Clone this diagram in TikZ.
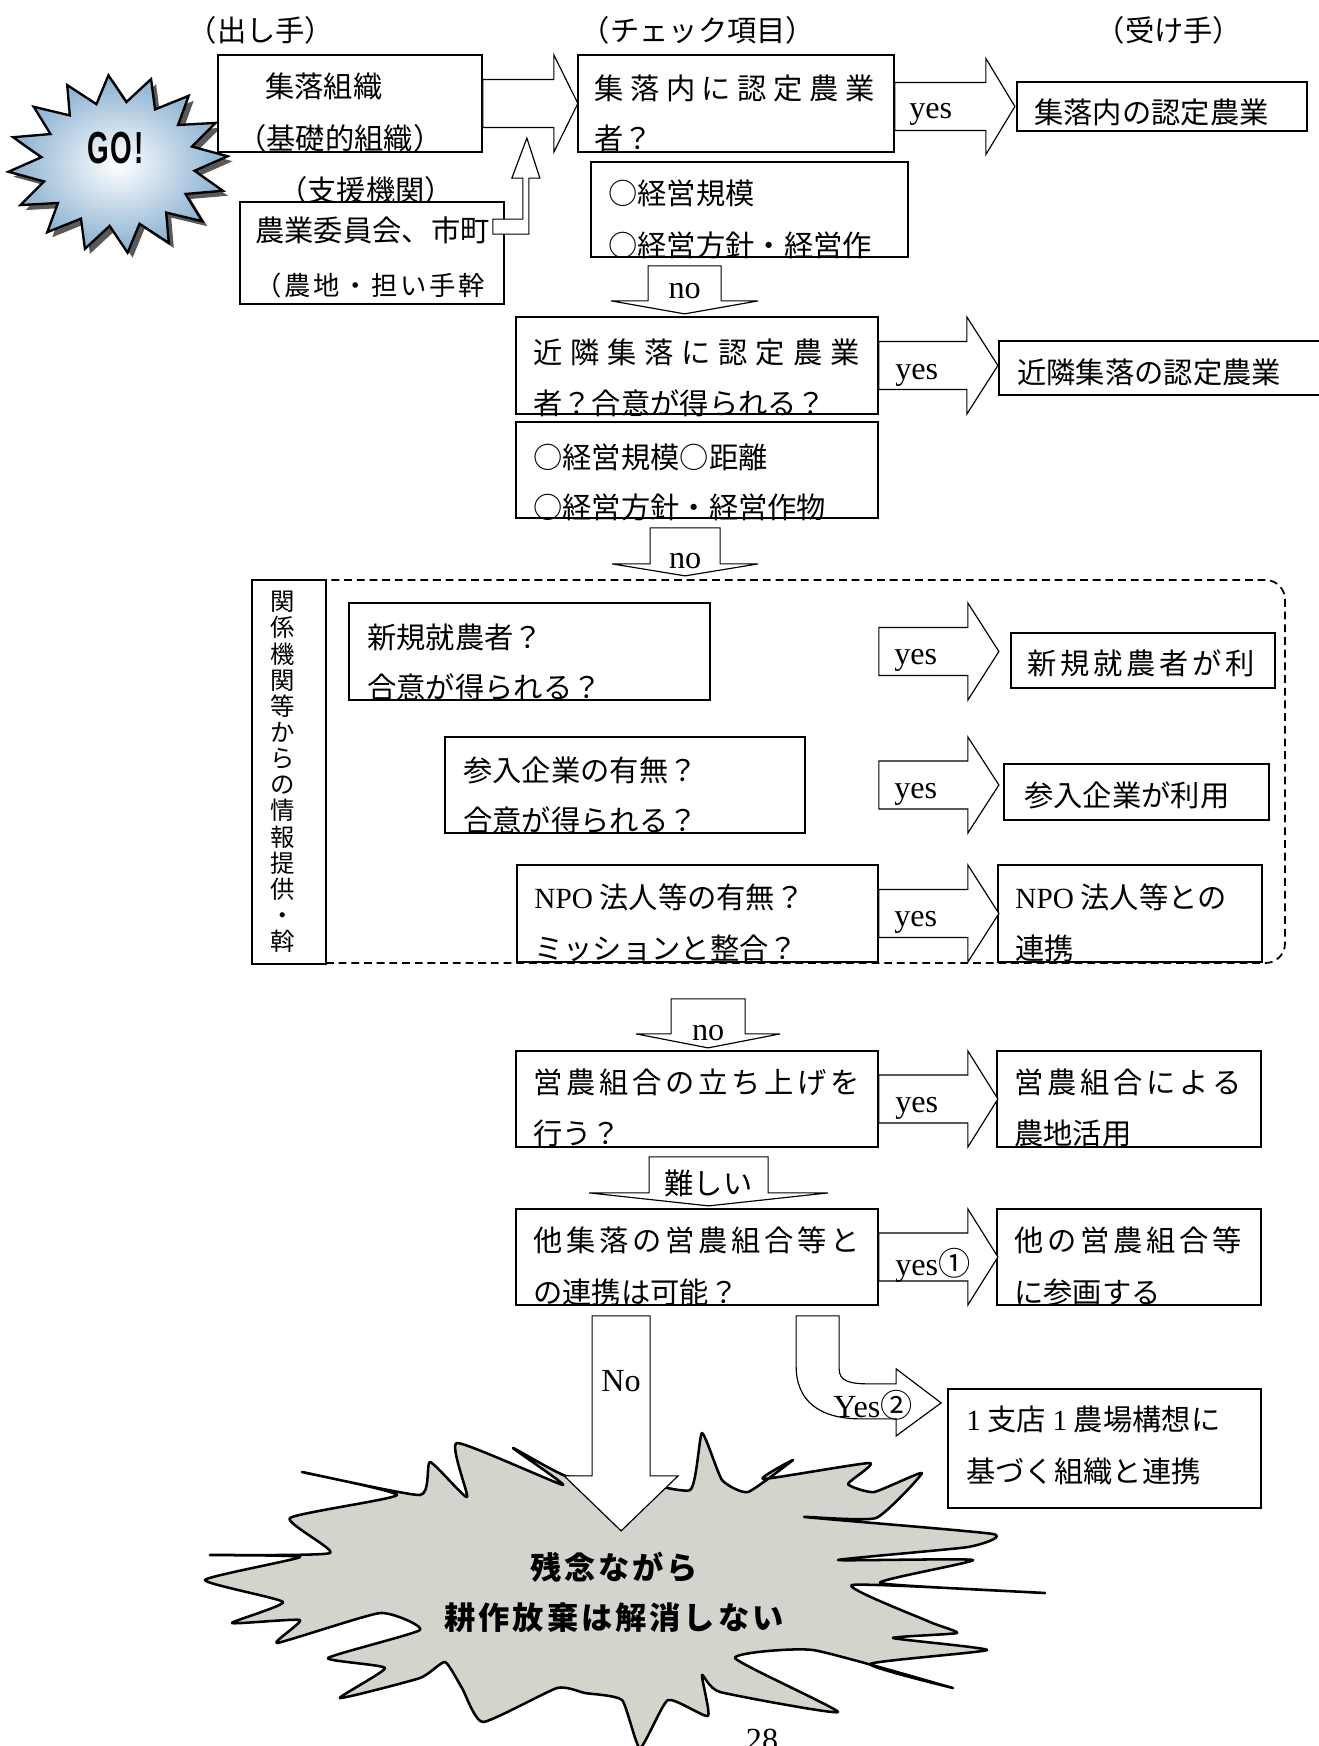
\documentclass[tikz,border=0pt]{standalone}
\usepackage{fontspec}
\usepackage{graphicx}
\newfontfamily\jp{Noto Sans CJK JP}
\newfontfamily\lat{Liberation Serif}
\newfontfamily\gofont{Liberation Sans}
\usetikzlibrary{calc,fit}

\definecolor{goblue}{RGB}{135,175,208}
\definecolor{boom}{RGB}{211,212,203}

\newdimen\pxunit \pxunit=0.018cm
% spread the characters of #2 over #1 px
\newcommand\spread[2]{\hbox to #1\pxunit{\spreadaux#2\relax}}
\def\spreadaux#1#2{#1\ifx#2\relax\else\hfil\expandafter\spreadaux\expandafter#2\fi}

% right block arrow: start, shaft length, shaft half, head half, head length
\newcommand\rblock[5]{\draw[blockarrow] ($(#1)+(0,-#3)$) -- ++(#2,0) -- ++(0,{#3-#4}) -- ++(#5,#4) -- ++(-#5,#4) -- ++(0,{#3-#4}) -- ++(-#2,0) -- cycle;}
% down block arrow: top left, shaft width, shaft length, head overhang, head length
\newcommand\dblock[5]{\draw[blockarrow] (#1) -- ++(#2,0) -- ++(0,#3) -- ++(#4,0) -- ++({-#4-#2/2},#5) -- ++({-#4-#2/2},-#5) -- ++(#4,0) -- cycle;}

\begin{document}
\begin{tikzpicture}[x=0.018cm, y=-0.018cm,
  box/.style={draw, line width=0.9pt, fill=white, inner sep=0pt},
  area/.style={draw, dash pattern=on 4pt off 2.5pt, line width=0.9pt, rounded corners=10pt, inner sep=0pt},
  txt/.style={font=\jp\fontsize{15}{18}\selectfont, inner sep=0pt, anchor=west},
  hdr/.style={font=\jp\fontsize{15}{18}\selectfont, inner sep=0pt},
  lbl/.style={font=\lat\fontsize{16.5}{18}\selectfont, inner sep=0pt},
  blockarrow/.style={draw, line width=0.6pt, fill=white}]

\useasboundingbox (0,0) rectangle (1318,1746);

% GO!
\fill[black!65, shift={(5,5)}] plot[samples at={0,...,31}, variable=\k] ({118+(1-0.3*mod(\k,2))*110*cos(\k*11.25+95)}, {164-(1-0.3*mod(\k,2))*89*sin(\k*11.25+95)}) -- cycle;
\shadedraw[line width=1.2pt, inner color=white, outer color=goblue] plot[samples at={0,...,31}, variable=\k] ({118+(1-0.3*mod(\k,2))*110*cos(\k*11.25+95)}, {164-(1-0.3*mod(\k,2))*89*sin(\k*11.25+95)}) -- cycle;
\node[font=\gofont\bfseries\fontsize{23}{26}\selectfont, inner sep=0pt] (go) at (116,148) {\scalebox{0.62}[1]{G\kern1pt O\kern2pt!}};

\node[hdr] (h1) at (261,30) {（出し手）};
\node[hdr] (h2) at (698,30) {（チェック項目）};
\node[hdr] (h3) at (1169,30) {（受け手）};
\node[hdr] (h4) at (366,190) {（支援機関）};

\node[box, fit={(218,55) (482,152)}] (kA) {};
\node[txt] (tA1) at (265,86) {集落組織};
\node[txt] (tA2) at (237,138) {（基礎的組織）};

\node[box, fit={(240,202) (504,304)}] (kC) {};
\node[txt] (tC1) at (255,230) {農業委員会、市町};
\node[txt, font=\jp\fontsize{13.5}{16}\selectfont] (tC2) at (255,285) {\spread{229}{（農地・担い手幹}};
\coordinate (lC) at ($(kC.north east)+(-12,18)$);
\draw[blockarrow] (lC) -- ++(30,0) -- ++(0,-41) -- ++(-11,0) -- ++(15,-40) -- ++(13,40) -- ++(-11,0) -- ++(0,56) -- ++(-36,0) -- cycle;

\node[box, fit={(578,55) (894,152)}] (kB) {};
\node[txt] (tB1) at (594,88) {\spread{280}{集落内に認定農業}};
\node[txt] (tB2) at (594,138) {者？};
\rblock{kA.east}{71}{24}{48.5}{24}

\node[box, fit={(1017,82) (1307,131)}] (kR1) {};
\node[txt] (tR1) at (1034,112) {集落内の認定農業};
\coordinate (aB) at ($(kB.east)+(0,3)$);
\rblock{aB}{91}{24}{48}{29}
\node[lbl, anchor=west] (y1) at ($(aB)+(14,8)$) {yes};

\node[box, fit={(591,162) (908,257)}] (kB2) {};
\node[txt] (tB3) at (608,193) {○経営規模};
\node[txt] (tB4) at (608,245) {○経営方針・経営作};
\coordinate (n1) at ($(kB2.south west)+(58,8)$);
\dblock{n1}{73}{35}{37}{13}
\node[lbl] (l1) at ($(n1)+(36.5,25)$) {no};

\node[box, fit={(516,317) (878,414)}] (kD) {};
\node[txt] (tD1) at (533,352) {\spread{326}{近隣集落に認定農業}};
\node[txt] (tD2) at (533,403) {者？合意が得られる？};
\node[box, fit={(999,341) (1330,395)}] (kR2) {};
\node[txt] (tR2) at (1017,372) {近隣集落の認定農業};
\rblock{kD.east}{88}{24}{48.5}{31}
\node[lbl, anchor=west] (y2) at ($(kD.east)+(16,10)$) {yes};

\node[box, fit={(516,422) (878,518)}] (kD2) {};
\node[txt] (tD3) at (533,457) {○経営規模○距離};
\node[txt] (tD4) at (533,507) {○経営方針・経営作物};
\coordinate (n2) at ($(kD2.south west)+(135,9)$);
\dblock{n2}{70}{36}{38}{12}
\node[lbl] (l2) at ($(n2)+(35,33)$) {no};

% information from related organisations
\node[area, fit={(300,580) (1285,963)}] (area) {};
\node[box, fit={(252,580) (326,964)}] (kInfo) {};
\node[font=\jp\fontsize{12.5}{13.4}\selectfont, align=center, inner sep=0pt] (tInfo) at (283,772) {関\\係\\機\\関\\等\\か\\ら\\の\\情\\報\\提\\供\\・\\斡};

\node[box, fit={(349,603) (710,700)}] (kE1) {};
\node[txt] (tE1) at (367,637) {新規就農者？};
\node[txt] (tE2) at (367,687) {合意が得られる？};
\node[box, fit={(445,737) (805,833)}] (kE2) {};
\node[txt] (tE3) at (463,770) {参入企業の有無？};
\node[txt] (tE4) at (463,820) {合意が得られる？};
\node[box, fit={(517,865) (878,962)}] (kE3) {};
\node[txt] (tE5) at (534,897) {{\lat NPO} 法人等の有無？};
\node[txt] (tE6) at (534,948) {ミッションと整合？};

\node[box, fit={(1011,633) (1275,688)}] (kR3) {};
\node[txt] (tR3) at (1027,663) {\spread{227}{新規就農者が利}};
\node[box, fit={(1004,764) (1269,820)}] (kR4) {};
\node[txt] (tR4) at (1024,795) {参入企業が利用};
\node[box, fit={(998,865) (1262,962)}] (kR5) {};
\node[txt] (tR5) at (1015,897) {{\lat NPO} 法人等との};
\node[txt] (tR6) at (1015,948) {連携};

\coordinate (aE1) at (kE3.east |- kE1.east);
\coordinate (aE2) at (kE3.east |- kE2.east);
\rblock{aE1}{89}{24}{48.5}{31}
\rblock{aE2}{89}{24}{48}{31}
\rblock{kE3.east}{89}{24}{48.5}{31}
\node[lbl, anchor=west] (y3) at ($(aE1)+(15,9)$) {yes};
\node[lbl, anchor=west] (y4) at ($(aE2)+(15,9)$) {yes};
\node[lbl, anchor=west] (y5) at ($(kE3.east)+(15,9)$) {yes};

\coordinate (n3) at ($(area.south west)+(372,35)$);
\dblock{n3}{74}{35}{35}{14}
\node[lbl] (l3) at ($(n3)+(37,34)$) {no};

\node[box, fit={(516,1051) (878,1147)}] (kF) {};
\node[txt] (tF1) at (533,1082) {\spread{326}{営農組合の立ち上げを}};
\node[txt] (tF2) at (533,1133) {行う？};
\node[box, fit={(997,1051) (1261,1147)}] (kRF) {};
\node[txt] (tRF1) at (1014,1082) {\spread{227}{営農組合による}};
\node[txt] (tRF2) at (1014,1133) {農地活用};
\rblock{kF.east}{89}{24}{48}{30}
\node[lbl, anchor=west] (y6) at ($(kF.east)+(16,9)$) {yes};

\coordinate (n4) at ($(kF.south west)+(134,9)$);
\dblock{n4}{119}{36}{60}{13}
\node[hdr] (l4) at ($(n4)+(59.5,27)$) {難しい};

\node[box, fit={(516,1209) (878,1305)}] (kG) {};
\node[txt] (tG1) at (533,1240) {\spread{326}{他集落の営農組合等と}};
\node[txt] (tG2) at (533,1292) {の連携は可能？};
\node[box, fit={(997,1209) (1261,1305)}] (kRG) {};
\node[txt] (tRG1) at (1014,1240) {\spread{227}{他の営農組合等}};
\node[txt] (tRG2) at (1014,1292) {に参画する};
\rblock{kG.east}{89}{24}{48}{30}
\node[lbl, anchor=west] (y7) at ($(kG.east)+(16,8)$) {yes{\jp ①}};

% give up
\draw[line width=1.3pt, line join=round, fill=boom] plot[smooth cycle, tension=0.3] coordinates {
  (622,1478) (690,1490) (702,1433) (722,1480) (748,1492) (793,1460) (763,1479)
  (870,1463) (848,1484) (874,1492) (922,1473) (876,1518) (805,1517) (993,1534)
  (968,1547) (838,1560) (973,1560) (880,1583) (1045,1593) (852,1585) (930,1622)
  (957,1633) (893,1638) (987,1650) (870,1664) (953,1688) (813,1650) (735,1658)
  (838,1712) (720,1692) (702,1675) (708,1716) (668,1700) (640,1748) (622,1700)
  (585,1693) (557,1688) (483,1722) (462,1688) (445,1662) (420,1678) (340,1698)
  (385,1668) (328,1658) (420,1630) (380,1613) (277,1643) (300,1620) (232,1623)
  (283,1602) (205,1580) (300,1557) (210,1555) (330,1553) (290,1518) (397,1495)
  (302,1472) (420,1495) (430,1462) (467,1497) (457,1443) (563,1485) (513,1448)
  (566,1476)};
\node[font=\jp\bfseries\fontsize{16}{20}\selectfont, inner sep=0pt] (tX1) at (614,1567) {\spread{167}{残念ながら}};
\node[font=\jp\bfseries\fontsize{16}{20}\selectfont, inner sep=0pt] (tX2) at (614,1618) {\spread{339}{耕作放棄は解消しない}};

\coordinate (nN) at ($(kG.south west)+(77,10)$);
\dblock{nN}{58}{160}{28}{55}
\node[lbl] (lN) at ($(nN)+(29,65)$) {No};

\coordinate (nY) at ($(kG.south west)+(281,10)$);
\draw[blockarrow] (nY) -- ($(nY)+(43,0)$) -- ($(nY)+(43,53)$)
  .. controls ($(nY)+(43,65)$) and ($(nY)+(53,68)$) .. ($(nY)+(73,68)$)
  -- ($(nY)+(100,68)$) -- ($(nY)+(100,53)$) -- ($(nY)+(145,87)$) -- ($(nY)+(100,120)$)
  -- ($(nY)+(100,103)$) -- ($(nY)+(65,103)$)
  .. controls ($(nY)+(23,103)$) and ($(nY)+(0,85)$) .. ($(nY)+(0,50)$) -- cycle;
\node[lbl] (lY) at (873,1405) {Yes{\jp ②}};

\node[box, fit={(948,1389) (1261,1508)}] (kH) {};
\node[txt] (tH1) at (966,1419) {{\lat 1} 支店 {\lat 1} 農場構想に};
\node[txt] (tH2) at (966,1471) {基づく組織と連携};

\node[lbl, anchor=north] (pg) at (762,1729) {28};

\end{tikzpicture}
\end{document}
